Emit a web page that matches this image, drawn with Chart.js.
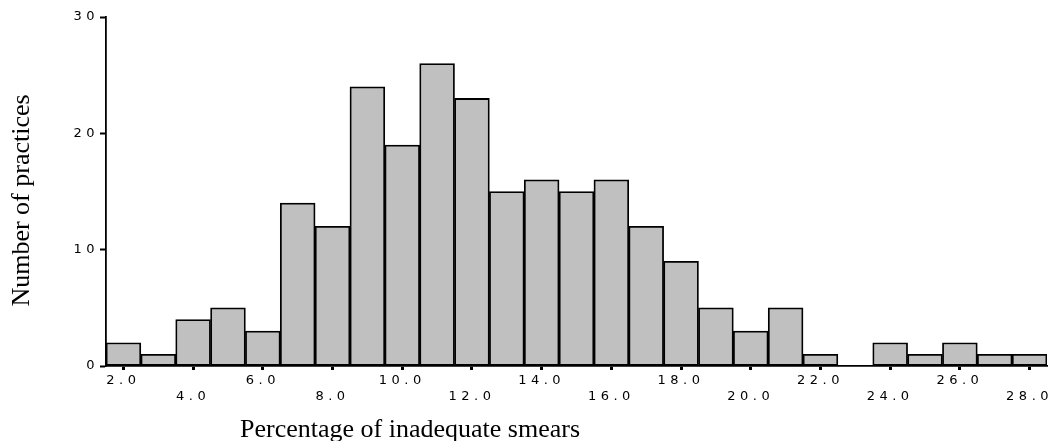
<!DOCTYPE html>
<html>
<head>
<meta charset="utf-8">
<script src="https://cdn.jsdelivr.net/npm/chart.js@4.4.1/dist/chart.umd.min.js"></script>
<style>
    html, body { margin: 0; padding: 0; background: #fff; }
    #wrap { width: 1059px; height: 441px; position: relative; }
</style>
</head>
<body>
<div id="wrap"><canvas id="myChart"></canvas></div>
<script>
// histogram bins (centre of each 1.0 wide bin) and number of practices per bin
const binLabels = ['2.0', '3.0', '4.0', '5.0', '6.0', '7.0', '8.0', '9.0', '10.0', '11.0', '12.0', '13.0', '14.0',
    '15.0', '16.0', '17.0', '18.0', '19.0', '20.0', '21.0', '22.0', '23.0', '24.0', '25.0', '26.0', '27.0', '28.0'];
const practiceCounts = [2, 1, 4, 5, 3, 14, 12, 24, 19, 26, 23, 15, 16, 15, 16, 12, 9, 5, 3, 5, 1, 0, 2, 1, 2, 1, 1];
const yTicks = [0, 10, 20, 30];
const xTitle = 'Percentage of inadequate smears';
const yTitle = 'Number of practices';

const tickFont = { family: '"DejaVu Sans", sans-serif', size: 13, lineHeight: '16px' };

const spacing = {
    id: 'tick_spacing',
    beforeDraw: (chart) => {
        chart.ctx.letterSpacing = '4.5px';
    }
};

const titles = {
    id: 'axis_titles',
    afterDraw: (chart) => {
        const { ctx, chartArea } = chart;
        ctx.save();
        ctx.letterSpacing = '0px';
        ctx.fillStyle = '#000';
        ctx.font = '26px "Liberation Serif", "Times New Roman", serif';
        ctx.textAlign = 'center';
        ctx.textBaseline = 'alphabetic';
        ctx.fillText(xTitle, chartArea.left + 304, chartArea.bottom + 71);

        ctx.translate(22, (chartArea.top + chartArea.bottom) / 2 + 9);
        ctx.rotate(-Math.PI / 2);
        ctx.textBaseline = 'middle';
        ctx.fillText(yTitle, 0, 0);
        ctx.restore();
    }
};

function createChart() {
    const ctx = document.getElementById('myChart').getContext('2d');

    return new Chart(ctx, {
        type: 'bar',
        data: {
            labels: binLabels,
            datasets: [{
                data: practiceCounts,
                backgroundColor: '#c0c0c0',
                borderColor: '#000',
                borderWidth: 1.8,
                borderSkipped: false,
                barPercentage: 1,
                categoryPercentage: 1
            }]
        },
        options: {
            responsive: true,
            maintainAspectRatio: false,
            animation: false,
            layout: { padding: { top: 17, right: 12, left: 0, bottom: 0 } },
            plugins: {
                legend: { display: false },
                tooltip: { enabled: false }
            },
            scales: {
                x: {
                    afterFit: (scale) => { scale.height = 75; },
                    border: { display: true, color: '#000', width: 1.8 },
                    grid: {
                        display: true,
                        drawOnChartArea: false,
                        offset: false,
                        tickLength: 4,
                        tickWidth: 3,
                        tickColor: (c) => (c.index % 2 === 0 ? '#000' : 'rgba(0,0,0,0)')
                    },
                    ticks: {
                        autoSkip: false,
                        maxRotation: 0,
                        padding: 2.5,
                        color: '#000',
                        font: tickFont,
                        callback: (val, i) => {
                            if (i % 4 === 0) return binLabels[i];
                            if (i % 2 === 0) return ['', binLabels[i]];
                            return '';
                        }
                    }
                },
                y: {
                    min: 0,
                    max: 30,
                    afterFit: (scale) => { scale.width = 106; },
                    afterBuildTicks: (scale) => { scale.ticks = yTicks.map(v => ({ value: v })); },
                    border: { display: true, color: '#000', width: 1.8 },
                    grid: {
                        display: true,
                        drawOnChartArea: false,
                        tickLength: 6,
                        tickWidth: 2,
                        tickColor: '#000'
                    },
                    ticks: {
                        padding: 1,
                        color: '#000',
                        font: tickFont
                    }
                }
            }
        },
        plugins: [spacing, titles]
    });
}

createChart();
</script>
</body>
</html>
